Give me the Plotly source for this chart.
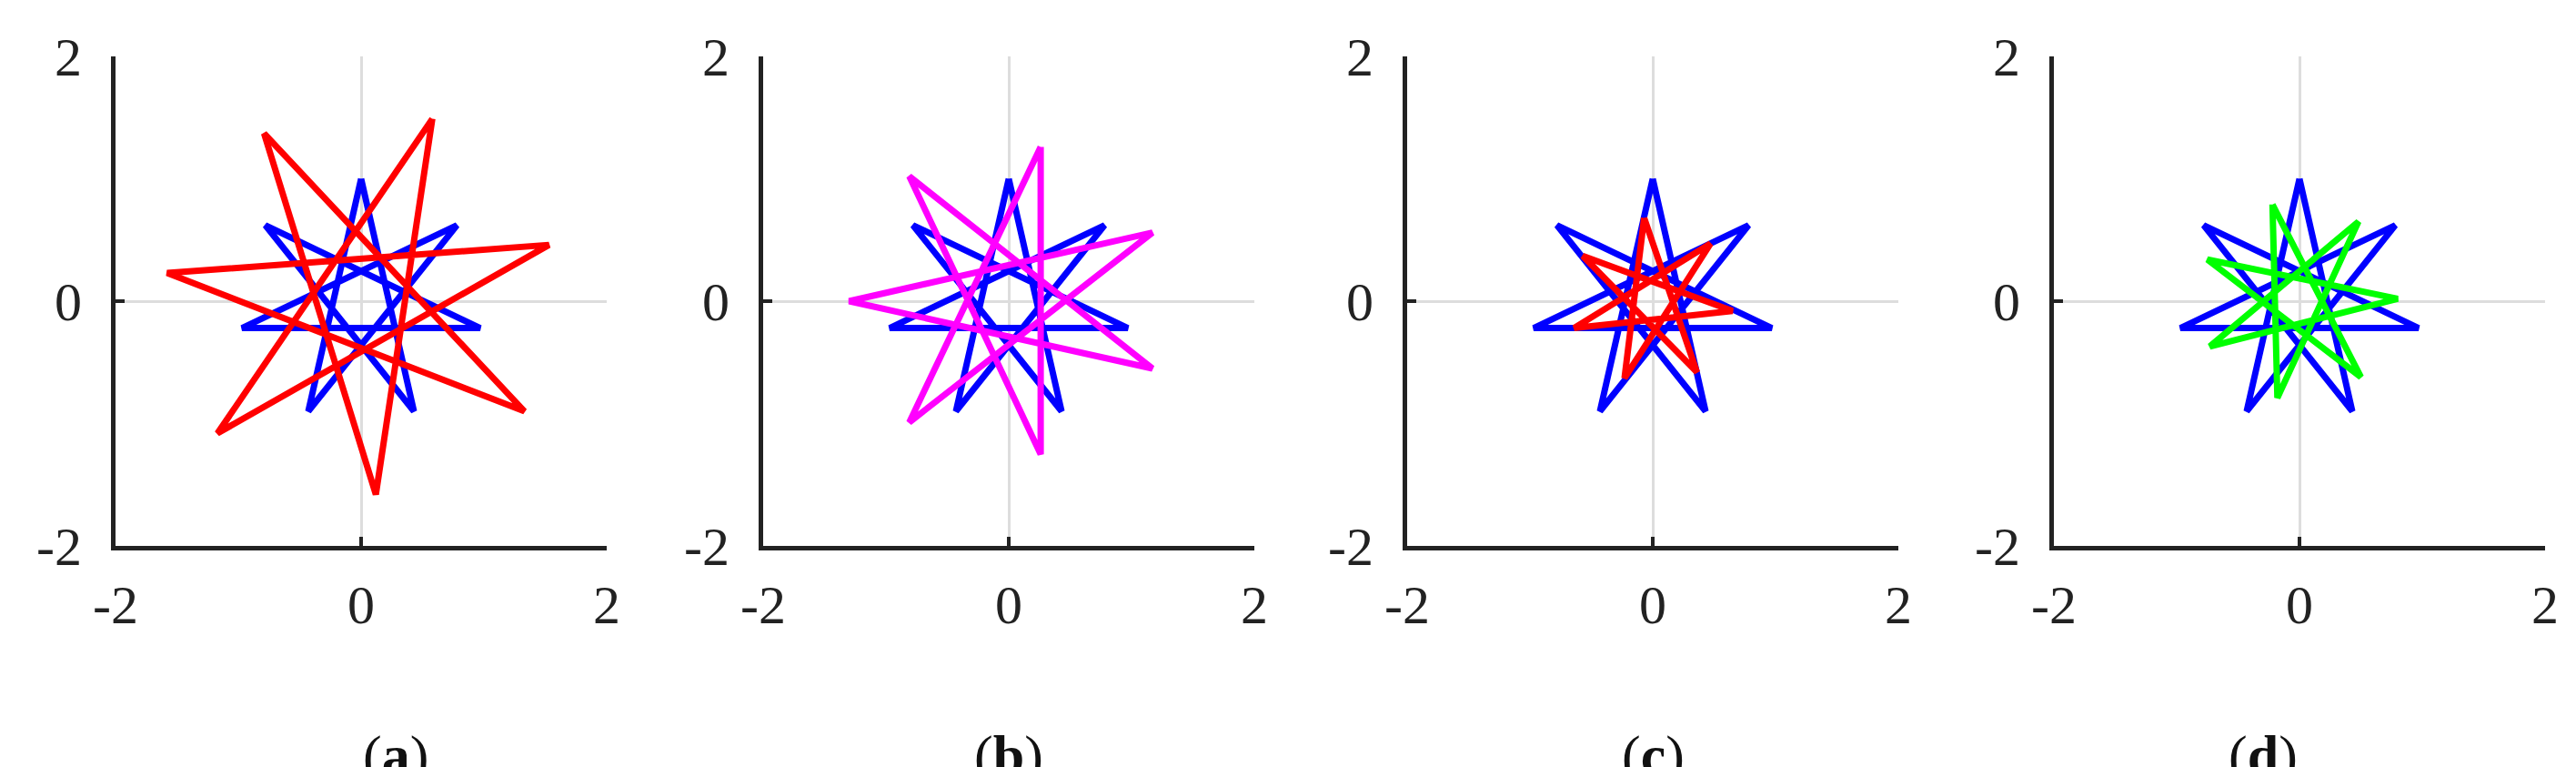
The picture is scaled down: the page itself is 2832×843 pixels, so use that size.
import plotly.graph_objects as go

# star vertices, clockwise from the top-most tip
blue_x = [0.00, 0.78, 0.97, 0.43, -0.43, -0.97, -0.78]
blue_y = [1.00, 0.62, -0.22, -0.90, -0.90, -0.22, 0.62]

red_a_x = [0.58, 1.53, 1.33, 0.12, -1.17, -1.58, -0.79]
red_a_y = [1.49, 0.46, -0.90, -1.58, -1.08, 0.23, 1.37]

mag_b_x = [0.26, 1.17, 1.17, 0.26, -0.81, -1.30, -0.81]
mag_b_y = [1.26, 0.56, -0.55, -1.25, -0.99, 0.00, 1.02]

red_c_x = [-0.07, 0.47, 0.65, 0.36, -0.23, -0.64, -0.57]
red_c_y = [0.68, 0.47, -0.08, -0.58, -0.63, -0.22, 0.37]

grn_d_x = [-0.22, 0.48, 0.80, 0.50, -0.18, -0.73, -0.75]
grn_d_y = [0.79, 0.65, 0.02, -0.62, -0.79, -0.37, 0.34]

panel_labels = ["a", "b", "c", "d"]
ticks = [-2, 0, 2]

W, H = 2832, 843
left_px = [119, 831, 1539, 2250]
panel_w = 540


def star(xs, ys, step=3):
    # connect every third vertex -> {7/3} star, closed
    n = len(xs)
    order = [(i * step) % n for i in range(n + 1)]
    return [xs[i] for i in order], [ys[i] for i in order]


panels = [
    [(blue_x, blue_y, "#0000ff"), (red_a_x, red_a_y, "#ff0000")],
    [(blue_x, blue_y, "#0000ff"), (mag_b_x, mag_b_y, "#ff00ff")],
    [(blue_x, blue_y, "#0000ff"), (red_c_x, red_c_y, "#ff0000")],
    [(blue_x, blue_y, "#0000ff"), (grn_d_x, grn_d_y, "#00ff00")],
]

fig = go.Figure()
font = dict(family="Liberation Serif", size=60, color="#222222")

for i, series in enumerate(panels):
    ax = "" if i == 0 else str(i + 1)
    for xs, ys, col in series:
        sx, sy = star(xs, ys)
        fig.add_trace(go.Scatter(x=sx, y=sy, mode="lines", xaxis="x" + ax, yaxis="y" + ax,
                                 line=dict(color=col, width=7), showlegend=False))
    x0 = left_px[i] / W
    x1 = (left_px[i] + panel_w) / W
    common = dict(range=[-2, 2], tickvals=ticks, ticktext=[str(t) for t in ticks],
                  showgrid=True, gridcolor="#dddddd", gridwidth=3, zeroline=False,
                  showline=True, linecolor="#222222", linewidth=5, mirror=False,
                  ticks="inside", ticklen=10, tickwidth=4, tickcolor="#222222",
                  tickfont=font, automargin=False, fixedrange=True)
    fig.layout["xaxis" + ax] = dict(domain=[x0, x1], anchor="y" + ax,
                                    ticklabelstandoff=8, **common)
    fig.layout["yaxis" + ax] = dict(domain=[(H - 592) / H, (H - 54) / H], anchor="x" + ax,
                                    ticklabelstandoff=20, **common)
    fig.add_annotation(text="(<b>%s</b>)" % panel_labels[i], xref="paper", yref="paper",
                       x=(x0 + x1) / 2, y=(H - 822) / H, yanchor="middle", showarrow=False,
                       font=dict(family="Liberation Serif", size=62, color="#111111"))

fig.update_layout(width=W, height=H, margin=dict(l=0, r=0, t=0, b=0),
                  paper_bgcolor="white", plot_bgcolor="white")

fig.write_html("out.html")
